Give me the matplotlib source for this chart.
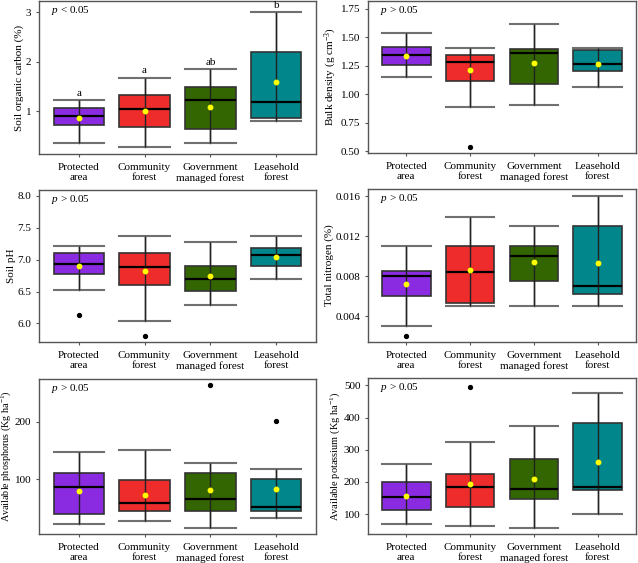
import numpy as np
import matplotlib
matplotlib.use("Agg")
import matplotlib.pyplot as plt

plt.rcParams['font.family'] = ['Liberation Serif', 'DejaVu Serif']
plt.rcParams['mathtext.fontset'] = 'custom'
plt.rcParams['mathtext.rm'] = 'Liberation Serif'
plt.rcParams['mathtext.it'] = 'Liberation Serif:italic'

groups = ["Protected\narea", "Community\nforest", "Government\nmanaged forest", "Leasehold\nforest"]
colors = ["#8A2BE2", "#EE2C2C", "#336600", "#00868B"]

# per panel: whislo, q1, median, q3, whishi, mean, fliers (one value per group)
soc_lo = [0.36, 0.28, 0.36, 0.81]
soc_q1 = [0.73, 0.69, 0.65, 0.87]
soc_med = [0.91, 1.04, 1.23, 1.20]
soc_q3 = [1.06, 1.34, 1.50, 2.20]
soc_hi = [1.23, 1.68, 1.85, 3.00]
soc_mean = [0.87, 1.01, 1.08, 1.59]
soc_fl = [[], [], [], []]
soc_letters = ["a", "a", "ab", "b"]

bd_lo = [1.149, 0.887, 0.91, 1.062]
bd_q1 = [1.255, 1.12, 1.094, 1.207]
bd_med = [1.343, 1.288, 1.364, 1.27]
bd_q3 = [1.413, 1.347, 1.395, 1.387]
bd_hi = [1.535, 1.408, 1.622, 1.41]
bd_mean = [1.335, 1.21, 1.273, 1.27]
bd_fl = [[], [0.535], [], []]

ph_lo = [6.53, 6.036, 6.29, 6.69]
ph_q1 = [6.77, 6.61, 6.505, 6.90]
ph_med = [6.93, 6.886, 6.70, 7.073]
ph_q3 = [7.105, 7.105, 6.90, 7.177]
ph_hi = [7.22, 7.375, 7.27, 7.365]
ph_mean = [6.90, 6.82, 6.74, 7.04]
ph_fl = [[6.13], [5.81], [], []]

tn_lo = [0.0030, 0.0050, 0.0050, 0.0050]
tn_q1 = [0.0060, 0.00527, 0.0075, 0.00623]
tn_med = [0.0080, 0.00843, 0.0100, 0.0070]
tn_q3 = [0.00847, 0.0110, 0.0110, 0.0130]
tn_hi = [0.0110, 0.0139, 0.0130, 0.0160]
tn_mean = [0.00717, 0.0086, 0.00943, 0.0093]
tn_fl = [[0.0020], [], [], []]

p_lo = [22, 27, 15.6, 32]
p_q1 = [39, 45, 44.7, 44.7]
p_med = [86, 58, 65.6, 51.7]
p_q3 = [111.5, 99.3, 111.5, 101]
p_hi = [147.6, 151, 129, 118.5]
p_mean = [80, 72.6, 80.8, 83]
p_fl = [[], [], [264], [202]]

k_lo = [70, 64, 58, 99]
k_q1 = [113.6, 121, 146, 176]
k_med = [153, 183, 177, 184]
k_q3 = [200.6, 225, 271, 382]
k_hi = [255, 324, 374.5, 475]
k_mean = [157, 192.5, 209, 261]
k_fl = [[], [494], [], []]

W, H = 638, 563
fig = plt.figure(figsize=(W / 100, H / 100), dpi=100)


def make_ax(x0, x1, y0, y1):
    return fig.add_axes([x0 / W, (H - y1) / H, (x1 - x0) / W, (y1 - y0) / H])


def panel(ax, lo, q1, med, q3, hi, mean, fl, ylabel, ylim, yticks, fmt, ptxt, ylsize=8):
    stats = []
    for i in range(4):
        stats.append(dict(whislo=lo[i], q1=q1[i], med=med[i], q3=q3[i],
                          whishi=hi[i], mean=mean[i], fliers=fl[i]))
    pos = np.arange(1, 5)
    # whisker line runs through the box
    ax.vlines(pos, lo, hi, color="#222222", lw=1.0, zorder=3)
    bp = ax.bxp(stats, positions=pos, widths=0.76, capwidths=0.76,
                patch_artist=True, showmeans=True,
                boxprops=dict(edgecolor="#333333", linewidth=1.2),
                whiskerprops=dict(color="#222222", linewidth=1.0),
                capprops=dict(color="#707070", linewidth=1.5),
                medianprops=dict(color="black", linewidth=1.6, zorder=4),
                meanprops=dict(marker="o", markerfacecolor="#FFFF00",
                               markeredgecolor="#FFFF00", markersize=3.2, zorder=5),
                flierprops=dict(marker="o", markerfacecolor="black",
                                markeredgecolor="black", markersize=2.8))
    for patch, c in zip(bp["boxes"], colors):
        patch.set_facecolor(c)
        patch.set_zorder(2)
    ax.set_xlim(0.4, 4.6)
    ax.set_ylim(*ylim)
    ax.set_yticks(yticks)
    ax.set_yticklabels([fmt.format(t) for t in yticks])
    ax.set_xticks(pos)
    ax.set_xticklabels(groups, linespacing=1.15)
    ax.tick_params(labelsize=8, length=2.5, width=0.8, color="#555555", pad=3)
    ax.tick_params(axis="x", pad=4)
    ax.set_ylabel(ylabel, fontsize=ylsize, labelpad=1)
    for s in ax.spines.values():
        s.set_color("#555555")
        s.set_linewidth(1.0)
    ax.text(0.045, 0.94, ptxt, transform=ax.transAxes, fontsize=8,
            va="center", ha="left")


ax1 = make_ax(39, 316, 1, 154)
panel(ax1, soc_lo, soc_q1, soc_med, soc_q3, soc_hi, soc_mean, soc_fl,
      "Soil organic carbon (%)", (0.14, 3.23), [1, 2, 3], "{:.0f}", r"$p$ < 0.05")
for i, lab in enumerate(soc_letters):
    ax1.text(i + 1, soc_hi[i] + 0.05, lab, ha="center", va="bottom", fontsize=8)

ax2 = make_ax(368, 636, 1, 153)
panel(ax2, bd_lo, bd_q1, bd_med, bd_q3, bd_hi, bd_mean, bd_fl,
      r"Bulk density (g cm$^{-3}$)", (0.485, 1.82),
      [0.5, 0.75, 1.0, 1.25, 1.5, 1.75], "{:.2f}", r"$p$ > 0.05")

ax3 = make_ax(39, 316, 190, 342)
panel(ax3, ph_lo, ph_q1, ph_med, ph_q3, ph_hi, ph_mean, ph_fl,
      "Soil pH", (5.71, 8.09), [6.0, 6.5, 7.0, 7.5, 8.0], "{:.1f}", r"$p$ > 0.05")

ax4 = make_ax(368, 636, 189, 342)
panel(ax4, tn_lo, tn_q1, tn_med, tn_q3, tn_hi, tn_mean, tn_fl,
      "Total nitrogen (%)", (0.0014, 0.0167),
      [0.004, 0.008, 0.012, 0.016], "{:.3f}", r"$p$ > 0.05")

ax5 = make_ax(39, 316, 379, 534)
panel(ax5, p_lo, p_q1, p_med, p_q3, p_hi, p_mean, p_fl,
      r"Available phosphorus (Kg ha$^{-1}$)", (4.5, 275), [100, 200], "{:.0f}",
      r"$p$ > 0.05", ylsize=7.3)

ax6 = make_ax(368, 636, 378, 534)
panel(ax6, k_lo, k_q1, k_med, k_q3, k_hi, k_mean, k_fl,
      r"Available potassium (Kg ha$^{-1}$)", (38, 523),
      [100, 200, 300, 400, 500], "{:.0f}", r"$p$ > 0.05", ylsize=7.5)

fig.savefig("out.png", dpi=100)
